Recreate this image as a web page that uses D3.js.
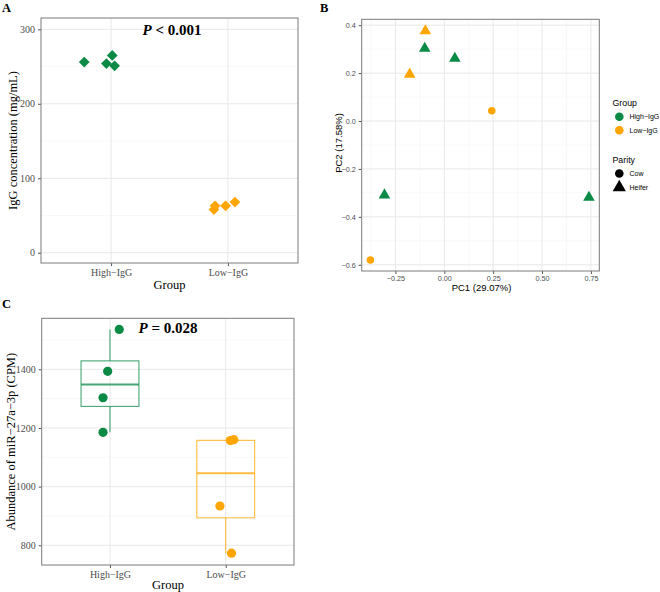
<!DOCTYPE html>
<html lang="en">
<head>
<meta charset="utf-8">
<script src="https://d3js.org/d3.v7.min.js"></script>
<style>
  body { margin: 0; background: #fff; }
  .serif text { font-family: "Liberation Serif", "Times New Roman", serif; }
  .sans text { font-family: "Liberation Sans", Arial, sans-serif; }
</style>
<title>IgG panels</title>
</head>
<body>
<div id="chart"></div>
<script>
// ---- data ----
var groups = ["High−IgG", "Low−IgG"];
var groupColors = ["#0a8a45", "#ffa500"];

// A: IgG concentration (mg/mL), jitter in category units
var igGroup  = [0, 0, 0, 0, 1, 1, 1, 1];
var igValue  = [256, 265, 254, 251, 58, 63, 63, 68];
var igJitter = [-0.23, 0.01, -0.04, 0.03, -0.12, -0.11, -0.02, 0.06];
var igTicks  = [0, 100, 200, 300];

// B: PCA scores
var pcGroup  = [1, 0, 0, 1, 1, 0, 0, 1];
var pcParity = ["Heifer", "Heifer", "Heifer", "Heifer", "Cow", "Heifer", "Heifer", "Cow"];
var pc1 = [-0.097, -0.100, 0.054, -0.177, 0.243, -0.306, 0.740, -0.378];
var pc2 = [0.376, 0.303, 0.261, 0.195, 0.043, -0.309, -0.319, -0.580];
var pc1Ticks = [-0.25, 0, 0.25, 0.5, 0.75];
var pc2Ticks = [-0.6, -0.4, -0.2, 0, 0.2, 0.4];
var parityLevels = ["Cow", "Heifer"];

// C: miR-27a-3p abundance (CPM)
var mirGroup  = [0, 0, 0, 0, 1, 1, 1, 1];
var mirValue  = [1536, 1393, 1303, 1185, 1157, 1160, 934, 773];
var mirJitter = [0.08, -0.02, -0.06, -0.06, 0.04, 0.07, -0.05, 0.05];
var mirTicks  = [800, 1000, 1200, 1400];

var svg = d3.select("#chart").append("svg")
    .attr("width", 660)
    .attr("height", 592);

// draws grid, axes and border for one panel
function panel(g, x, y, xt, yt, xMinor, yMinor, xFmt, yFmt, fs, pad) {
    var x0 = x.range()[0], x1 = x.range()[1], y0 = y.range()[1], y1 = y.range()[0];
    g.selectAll(".minx").data(xMinor).enter().append("line")
        .attr("x1", d => x(d)).attr("x2", d => x(d)).attr("y1", y0).attr("y2", y1)
        .attr("stroke", "#f4f4f4").attr("stroke-width", 0.6);
    g.selectAll(".miny").data(yMinor).enter().append("line")
        .attr("y1", d => y(d)).attr("y2", d => y(d)).attr("x1", x0).attr("x2", x1)
        .attr("stroke", "#f4f4f4").attr("stroke-width", 0.6);
    g.selectAll(".majx").data(xt).enter().append("line")
        .attr("x1", d => x(d)).attr("x2", d => x(d)).attr("y1", y0).attr("y2", y1)
        .attr("stroke", "#e8e8e8").attr("stroke-width", 1);
    g.selectAll(".majy").data(yt).enter().append("line")
        .attr("y1", d => y(d)).attr("y2", d => y(d)).attr("x1", x0).attr("x2", x1)
        .attr("stroke", "#e8e8e8").attr("stroke-width", 1);

    var ax = g.append("g").attr("transform", "translate(0," + y1 + ")")
        .call(d3.axisBottom(x).tickValues(xt).tickSize(3).tickPadding(pad).tickFormat(xFmt));
    var ay = g.append("g").attr("transform", "translate(" + x0 + ",0)")
        .call(d3.axisLeft(y).tickValues(yt).tickSize(3).tickPadding(3).tickFormat(yFmt));
    [ax, ay].forEach(function(a) {
        a.select(".domain").remove();
        a.selectAll("line").attr("stroke", "#555");
        a.selectAll("text").attr("fill", "#4d4d4d").style("font-size", fs + "px").attr("font-family", null);
    });
}

function border(g, x, y) {
    g.append("rect")
        .attr("x", x.range()[0]).attr("y", y.range()[1])
        .attr("width", x.range()[1] - x.range()[0])
        .attr("height", y.range()[0] - y.range()[1])
        .attr("fill", "none").attr("stroke", "#7a7a7a").attr("stroke-width", 1);
}

// ---------- Panel A ----------
var gA = svg.append("g").attr("class", "serif");
var xA = d3.scaleLinear().domain([0.4, 2.6]).range([41, 298]);
var yA = d3.scaleLinear().domain([-13.8, 315.2]).range([263, 18]);
panel(gA, xA, yA, [1, 2], igTicks, [], [50, 150, 250],
      d => groups[d - 1], d3.format("d"), 10, 3);

gA.selectAll(".pt").data(igValue).enter().append("path")
    .attr("d", d3.symbol().type(d3.symbolSquare).size(58))
    .attr("transform", (d, i) => "translate(" + xA(igGroup[i] + 1 + igJitter[i]) + "," + yA(d) + ") rotate(45)")
    .attr("fill", (d, i) => groupColors[igGroup[i]]);
border(gA, xA, yA);

gA.append("text").attr("x", 172).attr("y", 35).attr("text-anchor", "middle")
    .style("font-size", "15px").style("font-weight", "bold")
    .html('<tspan font-style="italic">P</tspan> &lt; 0.001');
gA.append("text").attr("x", 169.5).attr("y", 289).attr("text-anchor", "middle")
    .style("font-size", "12.5px").text("Group");
gA.append("text").attr("transform", "translate(17,140.5) rotate(-90)").attr("text-anchor", "middle")
    .style("font-size", "12.5px").text("IgG concentration (mg/mL)");
gA.append("text").attr("x", 2).attr("y", 12).style("font-size", "12.5px").style("font-weight", "bold").text("A");

// ---------- Panel B ----------
var gB = svg.append("g").attr("class", "sans");
var xB = d3.scaleLinear().domain([-0.4225, 0.793]).range([361.7, 599.3]);
var yB = d3.scaleLinear().domain([-0.626, 0.4246]).range([271, 19.3]);
panel(gB, xB, yB, pc1Ticks, pc2Ticks,
      [-0.375, -0.125, 0.125, 0.375, 0.625], [-0.5, -0.3, -0.1, 0.1, 0.3],
      d3.format(".2f"), d3.format(".1f"), 7.2, 1.5);
gB.selectAll(".tick text").text(function() { return d3.select(this).text().replace("-", "−"); });

var shape = { Cow: d3.symbol().type(d3.symbolCircle).size(44),
              Heifer: d3.symbol().type(d3.symbolTriangle).size(58) };
gB.selectAll(".pt").data(pc1).enter().append("path")
    .attr("d", (d, i) => shape[pcParity[i]]())
    .attr("transform", (d, i) => "translate(" + xB(d) + "," + yB(pc2[i]) + ")")
    .attr("fill", (d, i) => groupColors[pcGroup[i]]);
border(gB, xB, yB);

gB.append("text").attr("x", 481.5).attr("y", 290.5).attr("text-anchor", "middle")
    .style("font-size", "9.5px").text("PC1 (29.07%)");
gB.append("text").attr("transform", "translate(342,143) rotate(-90)").attr("text-anchor", "middle")
    .style("font-size", "9.5px").text("PC2 (17.58%)");
gB.append("text").attr("x", 320).attr("y", 12)
    .style("font-family", '"Liberation Serif", serif')
    .style("font-size", "12.5px").style("font-weight", "bold").text("B");

// legends
var leg = gB.append("g");
leg.append("text").attr("x", 612.5).attr("y", 106).style("font-size", "8.8px").text("Group");
leg.selectAll(".gk").data(groups).enter().append("circle")
    .attr("cx", 619.3).attr("cy", (d, i) => 116.7 + i * 13.5).attr("r", 4.3)
    .attr("fill", (d, i) => groupColors[i]);
leg.selectAll(".gl").data(groups).enter().append("text")
    .attr("x", 629.5).attr("y", (d, i) => 119.3 + i * 13.5).style("font-size", "7px").text(d => d);
leg.append("text").attr("x", 612.5).attr("y", 163).style("font-size", "8.8px").text("Parity");
leg.selectAll(".pk").data(parityLevels).enter().append("path")
    .attr("d", d => d === "Cow" ? d3.symbol().type(d3.symbolCircle).size(58)() : d3.symbol().type(d3.symbolTriangle).size(76)())
    .attr("transform", (d, i) => "translate(619.3," + (173.5 + i * 14) + ")")
    .attr("fill", "#000");
leg.selectAll(".pl").data(parityLevels).enter().append("text")
    .attr("x", 629.5).attr("y", (d, i) => 176 + i * 14).style("font-size", "7px").text(d => d);

// ---------- Panel C ----------
var gC = svg.append("g").attr("class", "serif");
var xC = d3.scaleLinear().domain([0.41, 2.59]).range([41.7, 294]);
var yC = d3.scaleLinear().domain([732.8, 1573.9]).range([565, 318.3]);
panel(gC, xC, yC, [1, 2], mirTicks, [], [900, 1100, 1300, 1500],
      d => groups[d - 1], d3.format("d"), 10, 3);

var stats = groups.map(function(g, k) {
    var v = mirValue.filter((d, i) => mirGroup[i] === k).sort(d3.ascending);
    var q1 = d3.quantile(v, 0.25), med = d3.quantile(v, 0.5), q3 = d3.quantile(v, 0.75);
    var iqr = q3 - q1;
    var lo = d3.min(v.filter(d => d >= q1 - 1.5 * iqr)), hi = d3.max(v.filter(d => d <= q3 + 1.5 * iqr));
    return { k: k, q1: q1, med: med, q3: q3, lo: lo, hi: hi };
});
var bw = 0.25;
var box = gC.selectAll(".box").data(stats).enter().append("g")
    .attr("stroke", d => groupColors[d.k]).attr("stroke-opacity", 0.75).attr("fill", "none");
box.append("line").attr("x1", d => xC(d.k + 1)).attr("x2", d => xC(d.k + 1))
    .attr("y1", d => yC(d.hi)).attr("y2", d => yC(d.q3)).attr("stroke-width", 1.1);
box.append("line").attr("x1", d => xC(d.k + 1)).attr("x2", d => xC(d.k + 1))
    .attr("y1", d => yC(d.q1)).attr("y2", d => yC(d.lo)).attr("stroke-width", 1.1);
box.append("rect").attr("x", d => xC(d.k + 1 - bw)).attr("width", d => xC(d.k + 1 + bw) - xC(d.k + 1 - bw))
    .attr("y", d => yC(d.q3)).attr("height", d => yC(d.q1) - yC(d.q3)).attr("stroke-width", 1.1);
box.append("line").attr("x1", d => xC(d.k + 1 - bw)).attr("x2", d => xC(d.k + 1 + bw))
    .attr("y1", d => yC(d.med)).attr("y2", d => yC(d.med)).attr("stroke-width", 2);

gC.selectAll(".pt").data(mirValue).enter().append("circle")
    .attr("cx", (d, i) => xC(mirGroup[i] + 1 + mirJitter[i]))
    .attr("cy", d => yC(d)).attr("r", 4.6)
    .attr("fill", (d, i) => groupColors[mirGroup[i]]);
border(gC, xC, yC);

gC.append("text").attr("x", 168).attr("y", 332.5).attr("text-anchor", "middle")
    .style("font-size", "15px").style("font-weight", "bold")
    .html('<tspan font-style="italic">P</tspan> = 0.028');
gC.append("text").attr("x", 168).attr("y", 589).attr("text-anchor", "middle")
    .style("font-size", "12.5px").text("Group");
gC.append("text").attr("transform", "translate(15,441.7) rotate(-90)").attr("text-anchor", "middle")
    .style("font-size", "12.5px").text("Abundance of miR−27a−3p (CPM)");
gC.append("text").attr("x", 2).attr("y", 308).style("font-size", "12.5px").style("font-weight", "bold").text("C");
</script>
</body>
</html>
